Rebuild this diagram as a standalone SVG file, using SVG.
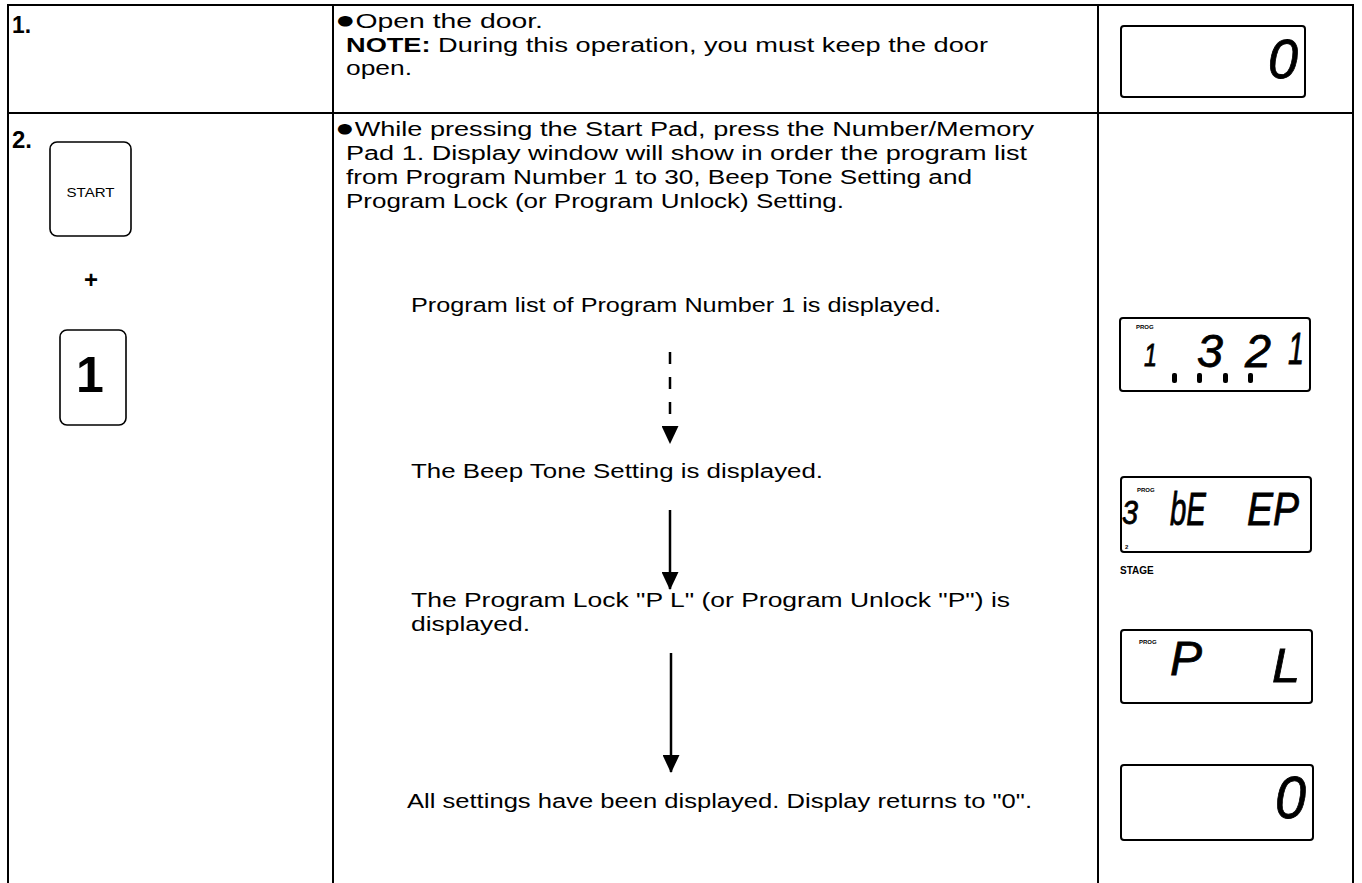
<svg xmlns="http://www.w3.org/2000/svg" width="1362" height="883" viewBox="0 0 1362 883">
<style>
.t{font-family:"Liberation Sans",Arial,sans-serif;font-size:20px;fill:#000}
.b{font-weight:bold}
.bul{font-size:24px}
.num{font-family:"Liberation Sans",Arial,sans-serif;font-size:23px;font-weight:bold;fill:#000}
.grid{stroke:#000;stroke-width:2;fill:none}
.lcd{fill:#fff;stroke:#000;stroke-width:2}
.seg{font-family:"Liberation Sans",Arial,sans-serif;font-style:italic;fill:#000;stroke:#000;stroke-width:0.8}
.tiny{font-family:"Liberation Sans",Arial,sans-serif;font-size:6px;font-weight:bold;fill:#000}
.key{fill:#fff;stroke:#000;stroke-width:1.6}
.conn{stroke:#000;stroke-width:2.5;fill:none}
</style>
<defs>
<marker id="ah" markerUnits="userSpaceOnUse" viewBox="0 0 18 17" refX="17" refY="8.5" markerWidth="18" markerHeight="17" orient="auto">
<path d="M0,0 L18,8.5 L0,17 z" fill="#000"/>
</marker>
</defs>
<rect width="1362" height="883" fill="#fff"/>
<g id="table">
<path class="grid" d="M8,883 V5 H1353 V883 M7,113 H1353 M333,5 V883 M1098,5 V883"/>
</g>
<g id="step1">
<text class="num" x="12" y="33" textLength="19" lengthAdjust="spacingAndGlyphs">1.</text>
<text class="t" x="335" y="28" textLength="208" lengthAdjust="spacingAndGlyphs"><tspan class="bul">●</tspan>Open the door.</text>
<text class="t" x="346" y="52" textLength="642" lengthAdjust="spacingAndGlyphs"><tspan class="b">NOTE:</tspan> During this operation, you must keep the door</text>
<text class="t" x="346" y="75" textLength="66" lengthAdjust="spacingAndGlyphs">open.</text>
</g>
<g id="display1">
<rect class="lcd" x="1121" y="26" width="184" height="71" rx="3"/>
<text class="seg" x="1268" y="78" font-size="55" textLength="30" lengthAdjust="spacingAndGlyphs">0</text>
</g>
<g id="step2">
<text class="num" x="12" y="148" textLength="20" lengthAdjust="spacingAndGlyphs">2.</text>
<text class="t" x="335" y="136" textLength="699" lengthAdjust="spacingAndGlyphs"><tspan class="bul">●</tspan>While pressing the Start Pad, press the Number/Memory</text>
<text class="t" x="346" y="160" textLength="681" lengthAdjust="spacingAndGlyphs">Pad 1. Display window will show in order the program list</text>
<text class="t" x="346" y="184" textLength="626" lengthAdjust="spacingAndGlyphs">from Program Number 1 to 30, Beep Tone Setting and</text>
<text class="t" x="346" y="208" textLength="498" lengthAdjust="spacingAndGlyphs">Program Lock (or Program Unlock) Setting.</text>
</g>
<g id="key-start">
<rect class="key" x="50" y="142" width="81" height="94" rx="7"/>
<text class="t" x="90.5" y="197" style="font-size:13px" text-anchor="middle" textLength="48" lengthAdjust="spacingAndGlyphs">START</text>
</g>
<g id="plus">
<text class="t b" x="91" y="288" style="font-size:24px" text-anchor="middle">+</text>
</g>
<g id="key-1">
<rect class="key" x="60" y="330" width="66" height="95" rx="7"/>
<text class="t b" x="90" y="392" style="font-size:50px" text-anchor="middle">1</text>
</g>
<g id="state-prog1">
<text class="t" x="411" y="312" textLength="530" lengthAdjust="spacingAndGlyphs">Program list of Program Number 1 is displayed.</text>
</g>
<g id="display2">
<rect class="lcd" x="1120" y="318" width="190" height="73" rx="3"/>
<text class="tiny" x="1136" y="329">PROG</text>
<text class="seg" x="1144" y="366" font-size="32" textLength="13" lengthAdjust="spacingAndGlyphs">1</text>
<text class="seg" x="1197" y="367" font-size="46" textLength="26" lengthAdjust="spacingAndGlyphs">3</text>
<text class="seg" x="1245" y="367" font-size="46" textLength="26" lengthAdjust="spacingAndGlyphs">2</text>
<text class="seg" x="1288" y="364" font-size="44" textLength="16" lengthAdjust="spacingAndGlyphs">1</text>
<g fill="#000">
<rect x="1172" y="373" width="5" height="10" rx="2"/>
<rect x="1197" y="373" width="5" height="10" rx="2"/>
<rect x="1223" y="373" width="5" height="10" rx="2"/>
<rect x="1248" y="373" width="5" height="10" rx="2"/>
</g>
</g>
<g id="state-beep">
<text class="t" x="411" y="478" textLength="412" lengthAdjust="spacingAndGlyphs">The Beep Tone Setting is displayed.</text>
</g>
<g id="display3">
<rect class="lcd" x="1121" y="477" width="190" height="75" rx="3"/>
<text class="seg" x="1122" y="524" font-size="34" textLength="16" lengthAdjust="spacingAndGlyphs">3</text>
<text class="tiny" x="1137" y="492">PROG</text>
<text class="tiny" x="1125" y="549">2</text>
<text class="seg" x="1170" y="525" font-size="46" textLength="36" lengthAdjust="spacingAndGlyphs">bE</text>
<text class="seg" x="1247" y="525" font-size="46" textLength="52" lengthAdjust="spacingAndGlyphs">EP</text>
<text class="t b" x="1120" y="574" style="font-size:10px">STAGE</text>
</g>
<g id="state-lock">
<text class="t" x="411" y="607" textLength="599" lengthAdjust="spacingAndGlyphs">The Program Lock "P L" (or Program Unlock "P") is</text>
<text class="t" x="411" y="631" textLength="119" lengthAdjust="spacingAndGlyphs">displayed.</text>
</g>
<g id="display4">
<rect class="lcd" x="1121" y="630" width="191" height="73" rx="3"/>
<text class="tiny" x="1139" y="644">PROG</text>
<text class="seg" x="1170" y="675" font-size="48" textLength="32" lengthAdjust="spacingAndGlyphs">P</text>
<text class="seg" x="1272" y="682" font-size="48" textLength="28" lengthAdjust="spacingAndGlyphs">L</text>
</g>
<g id="state-done">
<text class="t" x="407" y="808" textLength="625" lengthAdjust="spacingAndGlyphs">All settings have been displayed. Display returns to "0".</text>
</g>
<g id="display5">
<rect class="lcd" x="1121" y="765" width="192" height="75" rx="3"/>
<text class="seg" x="1275" y="818" font-size="60" textLength="31" lengthAdjust="spacingAndGlyphs">0</text>
</g>
<g id="connectors">
<line class="conn" x1="670" y1="352" x2="670" y2="443" stroke-width="5" stroke-dasharray="12 13" marker-end="url(#ah)"/>
<line class="conn" x1="670" y1="510" x2="670" y2="589" marker-end="url(#ah)"/>
<line class="conn" x1="671" y1="653" x2="671" y2="772" marker-end="url(#ah)"/>
</g>
</svg>
